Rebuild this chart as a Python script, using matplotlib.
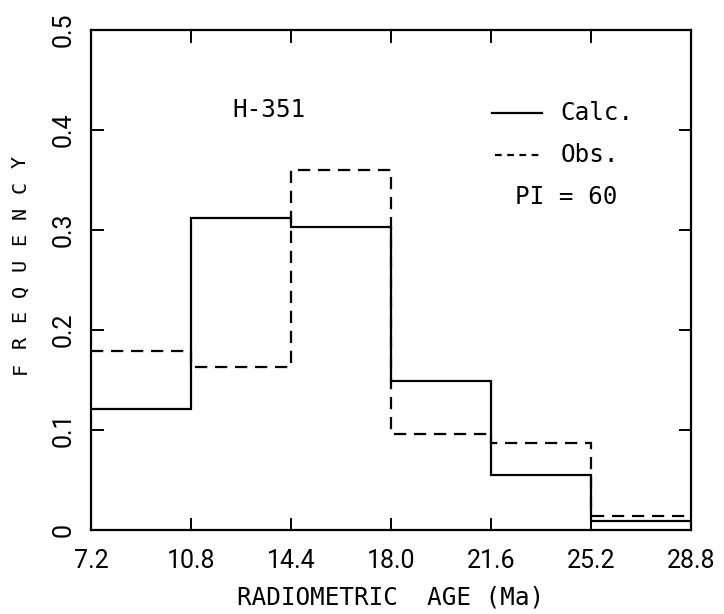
import numpy as np
import matplotlib
matplotlib.use("Agg")
import matplotlib.pyplot as plt

# bin edges (Ma) and frequencies
edges = [7.2, 10.8, 14.4, 18.0, 21.6, 25.2, 28.8]
calc = [0.121, 0.312, 0.303, 0.149, 0.055, 0.009]
obs = [0.179, 0.163, 0.360, 0.096, 0.087, 0.014]
xticks = [7.2, 10.8, 14.4, 18.0, 21.6, 25.2, 28.8]
xtick_labels = ["7.2", "10.8", "14.4", "18.0", "21.6", "25.2", "28.8"]
yticks = [0, 0.1, 0.2, 0.3, 0.4, 0.5]
ytick_labels = ["0", "0.1", "0.2", "0.3", "0.4", "0.5"]
ylabel_text = "FREQUENCY"

MONO = "DejaVu Sans Mono"
TICKF = "Roboto"
W, H = 724, 614

fig = plt.figure(figsize=(W / 100, H / 100), dpi=100)
ax = fig.add_axes([91 / W, 1 - 530 / H, 600 / W, 500 / H])

ax.stairs(calc, edges, baseline=None, color="black", linewidth=1.6)
ax.stairs(obs, edges, baseline=None, color="black", linewidth=1.6,
          linestyle=(0, (5.5, 3.5)))

ax.set_xlim(7.2, 28.8)
ax.set_ylim(0, 0.5)

ax.set_xticks(xticks)
ax.set_xticklabels(xtick_labels, fontfamily=TICKF, fontsize=18)
ax.set_yticks(yticks)
ax.set_yticklabels(ytick_labels, fontfamily=TICKF, fontsize=18,
                   rotation=90, va="center")
ax.tick_params(direction="in", length=9, width=1.4, top=True, right=True,
               labeltop=False, labelright=False)
ax.tick_params(axis="x", pad=14)
ax.tick_params(axis="y", pad=11)
for s in ax.spines.values():
    s.set_linewidth(1.6)

ax.set_xlabel("RADIOMETRIC  AGE (Ma)", fontfamily=MONO, fontsize=17.5,
              labelpad=9)

# widely spaced vertical axis title, one letter at a time
for i, ch in enumerate(ylabel_text):
    fig.text(20 / W, 1 - (368 - i * 25.8) / H, ch, fontfamily=MONO,
             fontsize=14.5, rotation=90, ha="center", va="center")

# annotations / hand-drawn legend
ax.text(12.3, 0.42, "H-351", fontfamily=MONO, fontsize=17.5, va="center")
ax.plot([21.65, 23.45], [0.417, 0.417], color="black", linewidth=1.6)
ax.text(24.1, 0.417, "Calc.", fontfamily=MONO, fontsize=17.5, va="center")
ax.plot([21.75, 23.45], [0.375, 0.375], color="black", linewidth=1.6,
        linestyle=(0, (3, 2.5)))
ax.text(24.1, 0.375, "Obs.", fontfamily=MONO, fontsize=17.5, va="center")
ax.text(24.3, 0.333, "PI = 60", fontfamily=MONO, fontsize=17.5,
        va="center", ha="center")

fig.savefig("out.png", dpi=100)
